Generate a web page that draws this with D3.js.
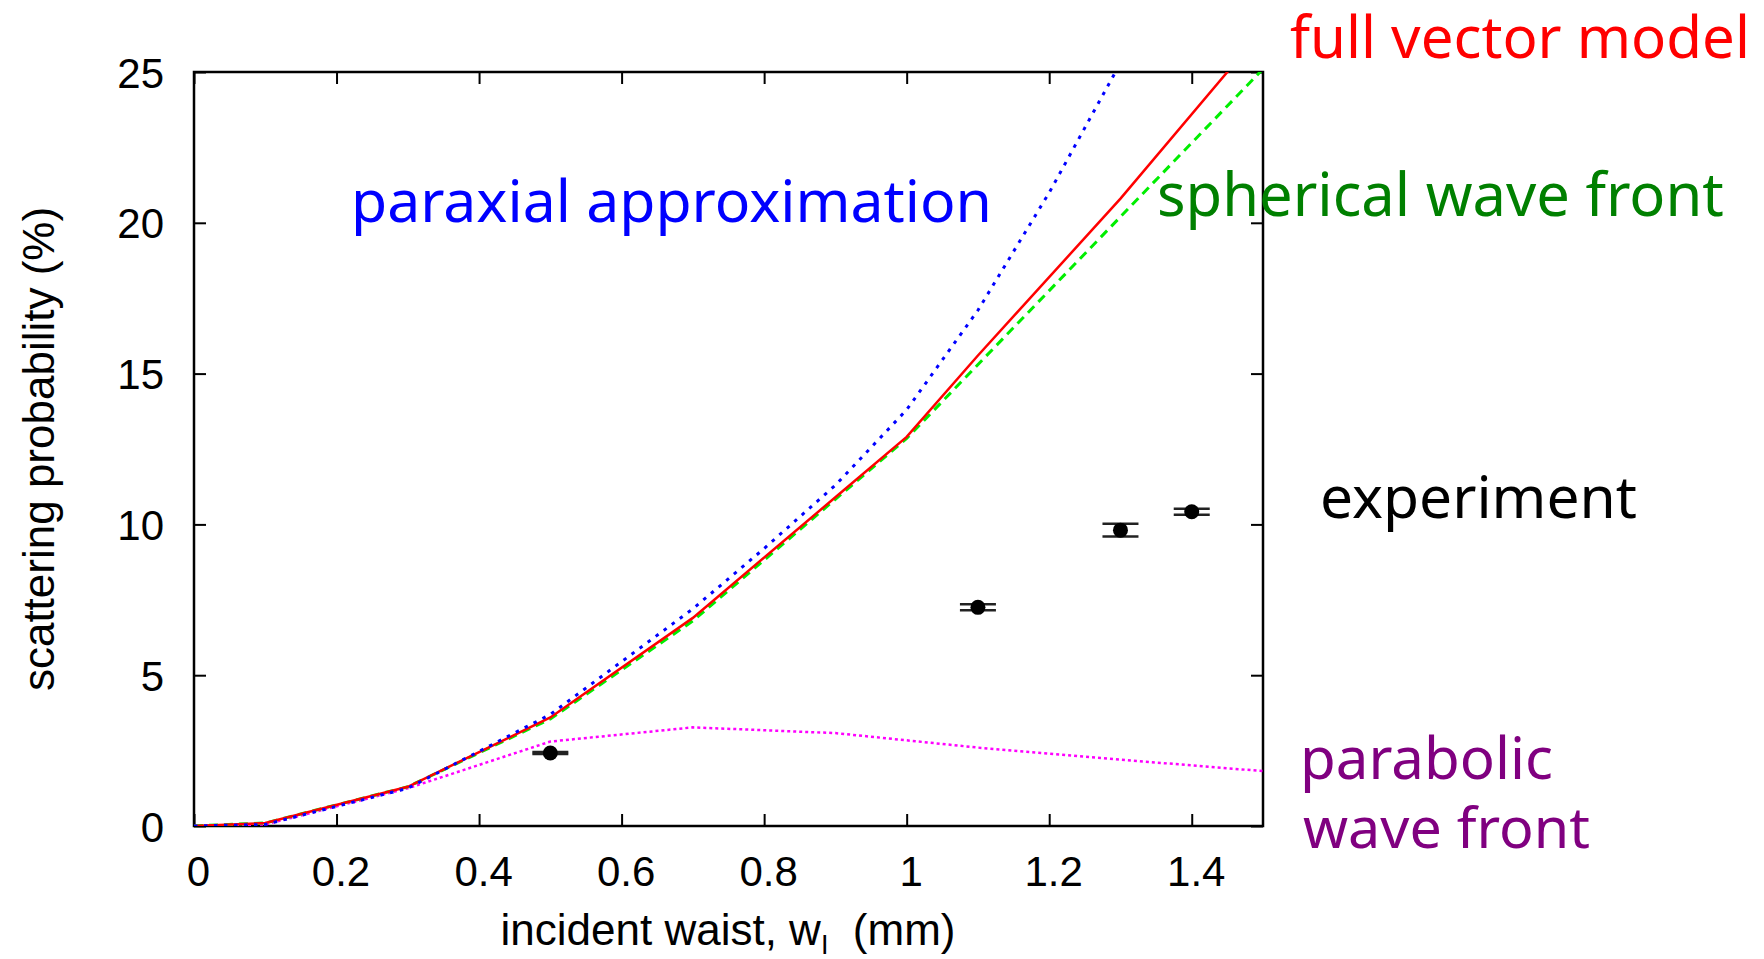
<!DOCTYPE html>
<html>
<head>
<meta charset="utf-8">
<script src="https://cdn.jsdelivr.net/npm/d3@7"></script>
<style>
  html, body { margin: 0; padding: 0; background: #fff; }
  svg { display: block; }
</style>
</head>
<body>
<svg id="chart" width="1764" height="959"></svg>
<script>
// ---- data ----
const fullVectorX = [0, 0.1, 0.3, 0.5, 0.7, 0.9, 1.0, 1.1, 1.3, 1.5];
const fullVectorY = [0, 0.1, 1.3, 3.6, 6.9, 10.9, 12.9, 15.6, 20.8, 26.4];

const sphericalX = [0, 0.1, 0.3, 0.5, 0.7, 1.0, 1.5];
const sphericalY = [0, 0.1, 1.3, 3.55, 6.8, 12.85, 25.1];

const paraxialX = [0, 0.1, 0.3, 0.5, 0.7, 0.8, 0.9, 1.0, 1.1, 1.2, 1.3];
const paraxialY = [0, 0.05, 1.25, 3.7, 7.2, 9.2, 11.3, 13.8, 17.1, 21.0, 25.3];

const parabolicX = [0, 0.1, 0.3, 0.5, 0.7, 0.9, 1.1, 1.3, 1.5];
const parabolicY = [0, 0.05, 1.25, 2.8, 3.27, 3.08, 2.6, 2.2, 1.82];

const expX = [0.5, 1.1, 1.3, 1.4];
const expY = [2.42, 7.25, 9.81, 10.42];
const expErr = [0.03, 0.1, 0.21, 0.1];

const xTicks = [0, 0.2, 0.4, 0.6, 0.8, 1, 1.2, 1.4];
const yTicks = [0, 5, 10, 15, 20, 25];

// ---- layout ----
const svg = d3.select("#chart");
const L = 194, R = 1263, T = 72, B = 826;
const x = d3.scaleLinear().domain([0, 1.5]).range([L, R]);
const y = d3.scaleLinear().domain([0, 25]).range([B, T]);
const tickFont = "'Liberation Sans', Arial, Helvetica, sans-serif";
const labelFont = "'Noto Sans', 'Open Sans', sans-serif";

svg.append("defs").append("clipPath").attr("id", "clip")
  .append("rect").attr("x", L).attr("y", T).attr("width", R - L).attr("height", B - T);

// axes with inward ticks
const tl = 12;
const gB = svg.append("g").attr("transform", `translate(0,${B})`)
  .call(d3.axisBottom(x).tickValues(xTicks).tickSize(-tl).tickPadding(30).tickFormat(d3.format("")));
const gT = svg.append("g").attr("transform", `translate(0,${T})`)
  .call(d3.axisTop(x).tickValues(xTicks).tickSize(-tl).tickFormat(""));
const gL = svg.append("g").attr("transform", `translate(${L},0)`)
  .call(d3.axisLeft(y).tickValues(yTicks).tickSize(-tl).tickPadding(30));
const gR = svg.append("g").attr("transform", `translate(${R},0)`)
  .call(d3.axisRight(y).tickValues(yTicks).tickSize(-tl).tickFormat(""));
[gB, gT, gL, gR].forEach(g => {
  g.select(".domain").remove();
  g.selectAll(".tick line").attr("stroke", "#000").attr("stroke-width", 2);
  g.selectAll(".tick text").attr("font-family", tickFont).attr("font-size", 42).attr("fill", "#000");
});
gB.selectAll(".tick text").attr("dy", "0.71em").attr("dx", 4);
gL.selectAll(".tick text").attr("dy", "0.36em");

// frame
svg.append("rect").attr("x", L).attr("y", T).attr("width", R - L).attr("height", B - T)
  .attr("fill", "none").attr("stroke", "#000").attr("stroke-width", 2.5);

// curves
const line = d3.line().x(d => x(d[0])).y(d => y(d[1]));
const plot = svg.append("g").attr("clip-path", "url(#clip)");
function curve(xs, ys, color, width, dash) {
  plot.append("path").datum(xs.map((v, i) => [v, ys[i]]))
    .attr("d", line).attr("fill", "none").attr("stroke", color)
    .attr("stroke-width", width).attr("stroke-dasharray", dash);
}
curve(parabolicX, parabolicY, "#ff00ff", 2.5, "3,3");
curve(sphericalX, sphericalY, "#00ee00", 3, "9,6");
curve(fullVectorX, fullVectorY, "#ff0000", 2.5, null);
curve(paraxialX, paraxialY, "#0000ff", 3, "3.5,6.5");

// experiment points with y error bars
const cap = 18;
const ex = svg.append("g");
expX.forEach((v, i) => {
  const cx = x(v);
  [expY[i] - expErr[i], expY[i] + expErr[i]].forEach(e => {
    ex.append("line").attr("x1", cx - cap).attr("x2", cx + cap)
      .attr("y1", y(e)).attr("y2", y(e)).attr("stroke", "#222").attr("stroke-width", 2.5);
  });
  ex.append("line").attr("x1", cx).attr("x2", cx)
    .attr("y1", y(expY[i] - expErr[i])).attr("y2", y(expY[i] + expErr[i]))
    .attr("stroke", "#222").attr("stroke-width", 2.5);
  ex.append("circle").attr("cx", cx).attr("cy", y(expY[i])).attr("r", 7.5).attr("fill", "#000");
});

// axis titles
const xt = svg.append("text").attr("x", 728).attr("y", 945).attr("text-anchor", "middle")
  .attr("font-family", tickFont).attr("font-size", 44).attr("fill", "#000");
xt.append("tspan").text("incident waist, w");
xt.append("tspan").attr("font-size", 27).attr("dy", 9).text("I");
xt.append("tspan").attr("dy", -9).text("\u00a0 (mm)");

svg.append("text").attr("transform", "translate(54,449) rotate(-90)")
  .attr("text-anchor", "middle").attr("font-family", tickFont).attr("font-size", 44)
  .attr("fill", "#000").text("scattering probability (%)");

// in-plot labels, sized to fit their measured widths
const labels = [
  { t: "full vector model", x0: 1290, x1: 1750, yb: 58, c: "#ff0000" },
  { t: "paraxial approximation", x0: 351, x1: 992, yb: 222, c: "#0000ff" },
  { t: "spherical wave front", x0: 1157, x1: 1724, yb: 216, c: "#008000" },
  { t: "experiment", x0: 1320, x1: 1637, yb: 518, c: "#000000" },
  { t: "parabolic", x0: 1300, x1: 1553, yb: 779, c: "#800080" },
  { t: "wave front", x0: 1303, x1: 1590, yb: 848, c: "#800080" }
];
labels.forEach(d => {
  const t = svg.append("text").attr("x", d.x0).attr("y", d.yb)
    .attr("font-family", labelFont).attr("font-size", 100).attr("fill", d.c).text(d.t);
  const w = t.node().getComputedTextLength();
  t.attr("font-size", 100 * (d.x1 - d.x0) / w);
});
</script>
</body>
</html>
